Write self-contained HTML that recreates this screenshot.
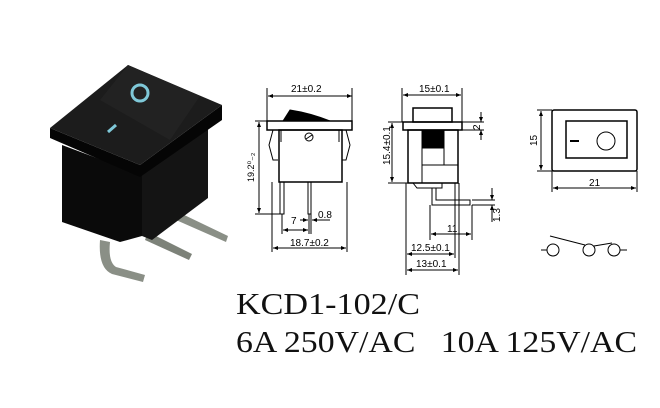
<!DOCTYPE html>
<html><head><style>body{margin:0;background:#fff}svg{display:block}</style></head>
<body>
<svg width="660" height="408" viewBox="0 0 660 408" xmlns="http://www.w3.org/2000/svg" font-family="Liberation Sans, sans-serif">
<defs><marker id="a" viewBox="0 0 10 10" refX="10" refY="5" markerWidth="5" markerHeight="5" orient="auto-start-reverse"><path d="M0,1 L10,5 L0,9z" fill="#000"/></marker></defs>
<!-- photo -->
<g>
<path d="M178,212 L228,236 L226,242 L176,220z" fill="#8a8f86"/>
<path d="M148,232 L192,254 L189,260 L145,240z" fill="#7d8279"/>
<path d="M100,240 Q98,268 112,274 L143,282 L145,275 L116,267 Q108,262 110,242z" fill="#8a8f86"/>
<path d="M62,145 L142,175 L142,236 L120,242 L62,222z" fill="#0a0a0a"/>
<path d="M142,175 L208,128 L208,198 L152,240 L142,236z" fill="#141414"/>
<path d="M50,128 L50,138 L140,177 L222,120 L222,105 L140,165z" fill="#050505"/>
<path d="M50,128 L128,65 L222,105 L140,165z" fill="#1c1c1c"/>
<path d="M100,100 L128,65 L200,96 L170,140z" fill="#222"/>
<circle cx="140" cy="93" r="8" fill="none" stroke="#7fc8d8" stroke-width="3"/>
<line x1="108" y1="132" x2="116" y2="125" stroke="#7fc8d8" stroke-width="3"/>
</g>
<g stroke="#000" fill="none" stroke-width="1">
<!-- front view -->
<line x1="268" y1="96" x2="352" y2="96" marker-start="url(#a)" marker-end="url(#a)"/>
<line x1="267" y1="88" x2="267" y2="121"/><line x1="352" y1="88" x2="352" y2="121"/>
<path d="M283,121 L290,110 Q310,113 330,121z" fill="#000"/>
<rect x="267" y="121" width="85" height="9" stroke-width="1.5"/>
<rect x="279" y="130" width="63" height="52" stroke-width="1.5"/>
<path d="M273,130 L269,145 L273,160 L278,160 M346,130 L350,145 L346,160 L342,160"/>
<line x1="281" y1="130" x2="281" y2="142"/><line x1="339" y1="130" x2="339" y2="142"/>
<circle cx="309" cy="137" r="4"/><line x1="306" y1="139" x2="312" y2="135"/>
<rect x="280" y="182" width="4" height="32"/><rect x="308" y="182" width="3" height="32"/>
<line x1="255" y1="121" x2="267" y2="121"/><line x1="255" y1="214" x2="280" y2="214"/>
<line x1="259" y1="122" x2="259" y2="213" marker-start="url(#a)" marker-end="url(#a)"/>
<line x1="282" y1="214" x2="282" y2="234"/><line x1="309" y1="214" x2="309" y2="234"/><line x1="311" y1="214" x2="311" y2="234"/>
<line x1="283" y1="230" x2="308" y2="230" marker-start="url(#a)" marker-end="url(#a)"/>
<line x1="300" y1="220" x2="308" y2="220" marker-end="url(#a)"/><line x1="330" y1="220" x2="312" y2="220" marker-end="url(#a)"/>
<line x1="272" y1="182" x2="272" y2="252"/><line x1="347" y1="182" x2="347" y2="252"/>
<line x1="273" y1="248" x2="346" y2="248" marker-start="url(#a)" marker-end="url(#a)"/>
<!-- side view -->
<line x1="403" y1="95" x2="461" y2="95" marker-start="url(#a)" marker-end="url(#a)"/>
<line x1="402" y1="88" x2="402" y2="122"/><line x1="462" y1="88" x2="462" y2="122"/>
<rect x="413" y="108" width="39" height="14" stroke-width="1.5"/>
<rect x="403" y="122" width="59" height="8" stroke-width="1.5"/>
<rect x="408" y="130" width="50" height="53" stroke-width="1.5"/>
<rect x="422" y="130" width="22" height="18" fill="#000"/>
<line x1="422" y1="148" x2="422" y2="183"/><line x1="444" y1="148" x2="444" y2="165"/>
<line x1="422" y1="165" x2="458" y2="165"/>
<path d="M413,183 L417,188 L442,188 L442,183 M436,188 L436,200 L470,200 L470,205 L432,205 L432,188"/>
<line x1="462" y1="122" x2="484" y2="122"/><line x1="462" y1="130" x2="484" y2="130"/>
<line x1="481" y1="112" x2="481" y2="122" marker-end="url(#a)"/><line x1="481" y1="140" x2="481" y2="130" marker-end="url(#a)"/>
<line x1="388" y1="122" x2="403" y2="122"/><line x1="388" y1="183" x2="413" y2="183"/>
<line x1="392" y1="123" x2="392" y2="182" marker-start="url(#a)" marker-end="url(#a)"/>
<line x1="472" y1="200" x2="495" y2="200"/><line x1="472" y1="205" x2="495" y2="205"/>
<line x1="492" y1="188" x2="492" y2="200" marker-end="url(#a)"/><line x1="492" y1="222" x2="492" y2="205" marker-end="url(#a)"/>
<line x1="430" y1="205" x2="430" y2="240"/><line x1="472" y1="205" x2="472" y2="240"/>
<line x1="431" y1="234" x2="471" y2="234" marker-start="url(#a)" marker-end="url(#a)"/>
<line x1="406" y1="183" x2="406" y2="275"/><line x1="459" y1="183" x2="459" y2="275"/><line x1="455" y1="183" x2="455" y2="258"/>
<line x1="407" y1="254" x2="454" y2="254" marker-start="url(#a)" marker-end="url(#a)"/>
<line x1="407" y1="270" x2="458" y2="270" marker-start="url(#a)" marker-end="url(#a)"/>
<!-- top view -->
<rect x="552" y="110" width="85" height="61" rx="2" stroke-width="1.5"/>
<rect x="566" y="121" width="61" height="37" stroke-width="1.5"/>
<line x1="570" y1="141" x2="579" y2="141" stroke-width="2"/>
<circle cx="606" cy="141" r="9"/>
<line x1="537" y1="110" x2="552" y2="110"/><line x1="537" y1="171" x2="552" y2="171"/>
<line x1="541" y1="111" x2="541" y2="170" marker-start="url(#a)" marker-end="url(#a)"/>
<line x1="552" y1="171" x2="552" y2="192"/><line x1="637" y1="171" x2="637" y2="192"/>
<line x1="553" y1="188" x2="636" y2="188" marker-start="url(#a)" marker-end="url(#a)"/>
<circle cx="553" cy="250" r="6"/><circle cx="589" cy="250" r="6"/><circle cx="614" cy="250" r="6"/>
<line x1="541" y1="250" x2="547" y2="250"/><line x1="620" y1="250" x2="627" y2="250"/>
<line x1="550" y1="236" x2="585" y2="245"/><line x1="594" y1="246" x2="612" y2="243"/>
</g>
<g font-size="10" fill="#000">
<text x="291" y="92">21±0.2</text>
<text x="291" y="224">7</text>
<text x="318" y="218">0.8</text>
<text x="290" y="246">18.7±0.2</text>
<text x="254" y="182" transform="rotate(-90 254 182)" font-size="9">19.2⁰₋₂</text>
<text x="419" y="92">15±0.1</text>
<text x="390" y="165" transform="rotate(-90 390 165)">15.4±0.1</text>
<text x="480" y="130" transform="rotate(-90 480 130)">2</text>
<text x="500" y="222" transform="rotate(-90 500 222)">1.3</text>
<text x="447" y="232">11</text>
<text x="411" y="251">12.5±0.1</text>
<text x="416" y="267">13±0.1</text>
<text x="537" y="146" transform="rotate(-90 537 146)">15</text>
<text x="589" y="186">21</text>
</g>
<g font-family="Liberation Serif, serif" font-size="31" fill="#111">
<text x="236" y="314" textLength="184" lengthAdjust="spacingAndGlyphs">KCD1-102/C</text>
<text x="236" y="352" textLength="401" lengthAdjust="spacingAndGlyphs" xml:space="preserve">6A 250V/AC   10A 125V/AC</text>
</g>
</svg>
</body></html>
